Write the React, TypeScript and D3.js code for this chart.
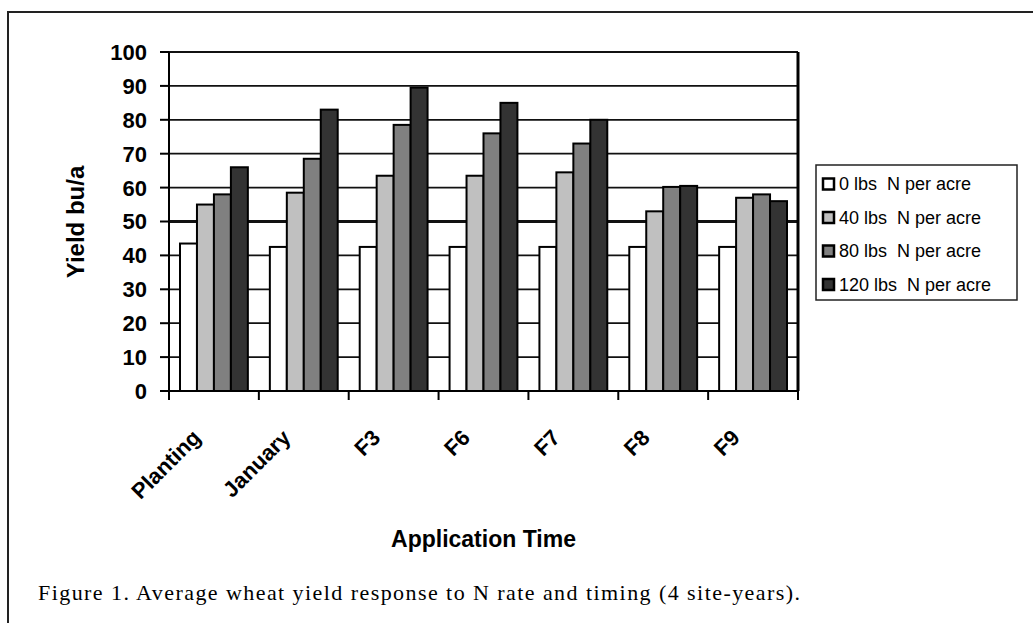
import React from 'react';
import * as d3 from 'd3';

const categories = ['Planting', 'January', 'F3', 'F6', 'F7', 'F8', 'F9'];
const seriesNames = ['0 lbs  N per acre', '40 lbs  N per acre', '80 lbs  N per acre', '120 lbs  N per acre'];
const n0 = [43.5, 42.5, 42.5, 42.5, 42.5, 42.5, 42.5];
const n40 = [55, 58.5, 63.5, 63.5, 64.5, 53, 57];
const n80 = [58, 68.5, 78.5, 76, 73, 60.2, 58];
const n120 = [66, 83, 89.5, 85, 80, 60.5, 56];
const yTicks = [0, 10, 20, 30, 40, 50, 60, 70, 80, 90, 100];
const fills = ['#ffffff', '#c0c0c0', '#808080', '#333333'];

const W = 1033, H = 623;
const plot = { left: 169, right: 798, top: 52, bottom: 391 };
const sans = '"Liberation Sans", Arial, sans-serif';

const App: React.FC = () => {
  const series = [n0, n40, n80, n120];
  const x = d3.scaleBand<string>().domain(categories).range([plot.left, plot.right]);
  const inner = d3.scaleBand<number>().domain([0, 1, 2, 3]).range([11, x.bandwidth() - 11]);
  const y = d3.scaleLinear().domain([0, 100]).range([plot.bottom, plot.top]);

  return (
    <svg width={W} height={H} style={{ position: 'absolute', left: 0, top: 0, background: '#fff' }}>
      {/* outer frame */}
      <line x1={7} x2={W} y1={12} y2={12} stroke="#222" strokeWidth={2} />
      <line x1={8} x2={8} y1={12} y2={H} stroke="#222" strokeWidth={2} />

      {/* gridlines */}
      {yTicks.filter((t) => t > 0).map((t) => (
        <line key={t} x1={plot.left} x2={plot.right} y1={y(t)} y2={y(t)}
              stroke="#111" strokeWidth={t === 50 ? 3 : 1.8} />
      ))}

      {/* bars */}
      {categories.map((c, i) => (
        <g key={c} transform={`translate(${x(c)},0)`}>
          {series.map((s, j) => (
            <rect key={j} x={inner(j)} y={y(s[i])} width={inner.bandwidth()}
                  height={y(0) - y(s[i])} fill={fills[j]} stroke="#000" strokeWidth={2} />
          ))}
        </g>
      ))}

      {/* axes */}
      <line x1={plot.right} x2={plot.right} y1={plot.top} y2={plot.bottom} stroke="#000" strokeWidth={3} />
      <line x1={plot.left} x2={plot.left} y1={plot.top} y2={plot.bottom + 1} stroke="#000" strokeWidth={2} />
      <line x1={plot.left} x2={plot.right} y1={plot.bottom} y2={plot.bottom} stroke="#000" strokeWidth={2} />
      {yTicks.map((t) => (
        <g key={t}>
          <line x1={plot.left - 9} x2={plot.left} y1={y(t)} y2={y(t)} stroke="#000" strokeWidth={2} />
          <text x={147} y={y(t)} dy="0.36em" textAnchor="end" fontFamily={sans}
                fontWeight="bold" fontSize={22}>{t}</text>
        </g>
      ))}
      {d3.range(categories.length + 1).map((k) => {
        const xt = plot.left + k * x.step();
        return <line key={k} x1={xt} x2={xt} y1={plot.bottom} y2={plot.bottom + 9} stroke="#000" strokeWidth={2} />;
      })}
      {categories.map((c) => {
        const ax = (x(c) as number) + x.bandwidth() / 2 - 12;
        return (
          <text key={c} transform={`translate(${ax},439) rotate(-45)`} textAnchor="end"
                fontFamily={sans} fontWeight="bold" fontSize={22}>{c}</text>
        );
      })}

      {/* axis titles */}
      <text transform="translate(84,222) rotate(-90)" textAnchor="middle" fontFamily={sans}
            fontWeight="bold" fontSize={24}>Yield bu/a</text>
      <text x={(plot.left + plot.right) / 2} y={547} textAnchor="middle" fontFamily={sans}
            fontWeight="bold" fontSize={23}>Application Time</text>

      {/* legend */}
      <rect x={816} y={165} width={201} height={135} fill="#fff" stroke="#222" strokeWidth={1.5} />
      {seriesNames.map((name, j) => {
        const cy = 184 + j * 33.5;
        return (
          <g key={name}>
            <rect x={823} y={cy - 5.5} width={11} height={11} fill={fills[j]} stroke="#000" strokeWidth={2.5} />
            <text x={839} y={cy} dy="0.36em" fontFamily={sans} fontSize={18} style={{ whiteSpace: 'pre' }}>{name}</text>
          </g>
        );
      })}

      {/* caption */}
      <text x={38} y={600} fontFamily='"Liberation Serif", "Times New Roman", serif' fontSize={22}
            textLength={762} lengthAdjust="spacing">
        Figure 1. Average wheat yield response to N rate and timing (4 site-years).
      </text>
    </svg>
  );
};

export default App;
